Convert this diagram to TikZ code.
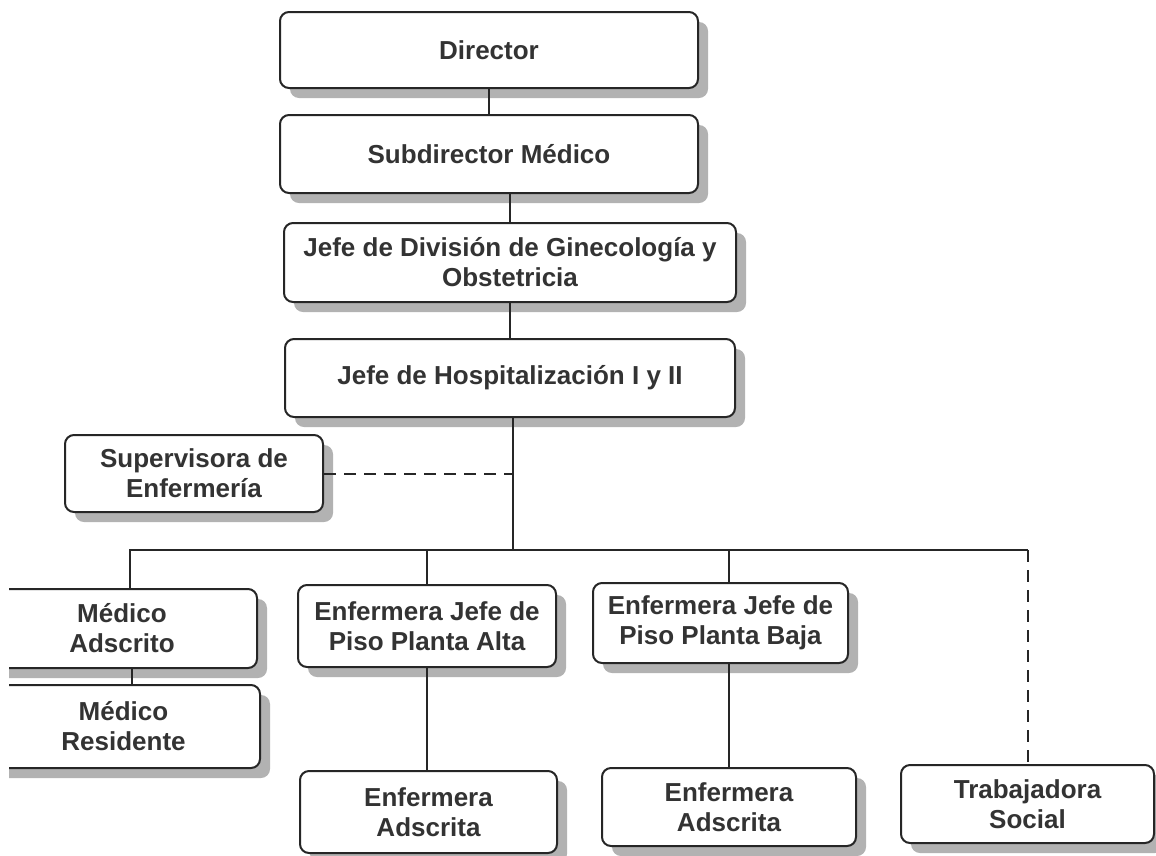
\documentclass[tikz,border=0pt]{standalone}
\usepackage{fontspec}
\setmainfont{Liberation Sans}
\usetikzlibrary{shadows}
\tikzset{
  orgbox/.style={draw=black!85, line width=2pt, rounded corners=9pt, fill=white,
    align=center, font=\fontsize{26}{30}\selectfont\bfseries, text=black!80,
    inner sep=0pt,
    drop shadow={shadow xshift=10pt, shadow yshift=-10pt, fill=black!30, opacity=1}},
  link/.style={draw=black!85, line width=2pt},
  dlink/.style={link, dash pattern=on 12pt off 8pt},
}
\begin{document}
\begin{tikzpicture}[x=1pt, y=-1pt]
\useasboundingbox (0,0) rectangle (1156,855);
\begin{scope}
\clip (9,0) rectangle (1156,855);
% nodes
\node[orgbox, minimum width=418pt, minimum height=76pt] (dir) at (489,50) {Director};
\node[orgbox, minimum width=418pt, minimum height=78pt] (sub) at (489,154) {Subdirector Médico};
\node[orgbox, minimum width=452pt, minimum height=79pt] (div) at (510,262.5) {Jefe de División de Ginecología y\\Obstetricia};
\node[orgbox, minimum width=450pt, minimum height=78pt] (hos) at (510,378) {Jefe de Hospitalización I y II};
\node[orgbox, minimum width=258pt, minimum height=77pt] (sup) at (194,473.5) {Supervisora de\\Enfermería};
\node[orgbox, minimum width=270pt, minimum height=79pt] (ma) at (122,628.5) {Médico\\Adscrito};
\node[orgbox, minimum width=273pt, minimum height=83pt] (mr) at (123.5,726.5) {Médico\\Residente};
\node[orgbox, minimum width=258pt, minimum height=82pt] (eja) at (427,626) {Enfermera Jefe de\\Piso Planta Alta};
\node[orgbox, minimum width=257pt, minimum height=82pt] (ea1) at (428.5,812) {Enfermera\\Adscrita};
\node[orgbox, minimum width=255pt, minimum height=80pt] (ejb) at (720.5,623) {Enfermera Jefe de\\Piso Planta Baja};
\node[orgbox, minimum width=254pt, minimum height=78pt] (ea2) at (729,807) {Enfermera\\Adscrita};
\node[orgbox, minimum width=253pt, minimum height=78pt] (ts) at (1027.5,804) {Trabajadora\\Social};
% connectors
\coordinate (j) at (513,550);
\draw[link] (dir.south) -- (sub.north);
\draw[link] (sub.south -| div.north) -- (div.north);
\draw[link] (div.south) -- (hos.north);
\draw[link] (hos.south -| j) -- (j);
\draw[dlink] (sup.east) -- (sup.east -| j);
\draw[link] ([xshift=8pt]ma.north) |- (ts.north |- j);
\draw[link] (eja.north) -- (eja.north |- j);
\draw[link] ([xshift=8pt]ejb.north) -- ([xshift=8pt]ejb.north |- j);
\draw[dlink] (ts.north |- j) -- (ts.north);
\draw[link] ([xshift=10pt]ma.south) -- ([xshift=10pt]ma.south |- mr.north);
\draw[link] (eja.south) -- (eja.south |- ea1.north);
\draw[link] ([xshift=8pt]ejb.south) -- ([xshift=8pt]ejb.south |- ea2.north);
\end{scope}
\end{tikzpicture}
\end{document}
